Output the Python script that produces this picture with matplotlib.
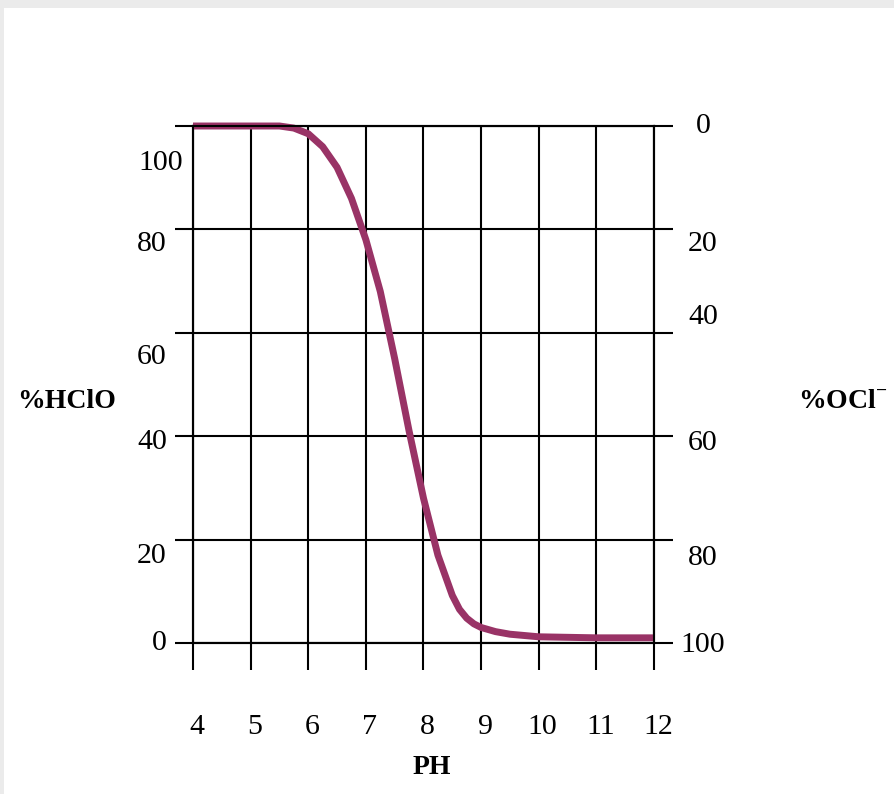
import matplotlib
matplotlib.use('Agg')
import matplotlib.pyplot as plt
from matplotlib.patches import Rectangle

# ---- data ----
ph = [4, 4.5, 5, 5.5, 5.75, 6.0, 6.25, 6.5, 6.75, 7.0, 7.25, 7.5, 7.75,
      8.0, 8.25, 8.5, 8.625, 8.75, 8.875, 9.0, 9.25, 9.5, 10, 11, 12]
hclo = [100, 100, 100, 100, 99.6, 98.5, 96, 92, 86, 78, 68, 55, 41,
        28, 17, 9.2, 6.5, 4.8, 3.7, 3.0, 2.2, 1.7, 1.2, 1.0, 1.0]
ph_ticks = [4, 5, 6, 7, 8, 9, 10, 11, 12]
hclo_ticks = [0, 20, 40, 60, 80, 100]
ocl_ticks = [0, 20, 40, 60, 80, 100]

# ---- layout (label offsets in pixels, as in the reference) ----
left_dy = [0, 16, 6, 24, 15, 37]      # downward shift of left labels (for 0..100)
left_right_edge = [-26, -26, -26, -26, -26, -10]
right_dy = [0, 15, -16, 7, 18, 2]     # downward shift of right labels (for 0..100)

PX = 0.72  # points per pixel at dpi 100
W, H = 895, 794
font = 'Liberation Serif'
fs = 21.5

fig = plt.figure(figsize=(W / 100, H / 100), dpi=100, facecolor='#ebebeb')
fig.patches.append(Rectangle((4 / W, 0), 1, (H - 8) / H, transform=fig.transFigure,
                             facecolor='white', edgecolor='none', zorder=-1))

ax = fig.add_axes([193 / W, (H - 643) / H, (654 - 193) / W, (643 - 126) / H])
ax.set_facecolor('none')
ax.set_xlim(4, 12)
ax.set_ylim(0, 100)
ax.plot(ph, hclo, color='#993366', lw=5, solid_capstyle='butt',
        solid_joinstyle='round', zorder=3, clip_on=False)
ax.set_xticks(ph_ticks)
ax.set_yticks(hclo_ticks)
ax.grid(True, color='black', lw=1.5)
ax.tick_params(axis='x', direction='out', length=27 * PX, width=1.5,
               labelbottom=False)
ax.tick_params(axis='y', direction='out', length=18 * PX, width=1.5,
               labelleft=False)
for s in ax.spines.values():
    s.set_linewidth(1.5)

ax2 = ax.twinx()
ax2.set_ylim(100, 0)
ax2.set_yticks(ocl_ticks)
ax2.tick_params(axis='y', direction='out', length=19 * PX, width=1.5,
                labelright=False)
for s in ax2.spines.values():
    s.set_linewidth(1.5)

# bottom labels
for p in ph_ticks:
    ax.annotate(str(p), xy=(p, 0), xycoords=('data', 'axes fraction'),
                xytext=(4 * PX, -84 * PX), textcoords='offset points',
                ha='center', va='center', fontsize=fs, family=font)

# left labels
for v, dy, dx in zip(hclo_ticks, left_dy, left_right_edge):
    ax.annotate(str(v), xy=(0, v), xycoords=('axes fraction', 'data'),
                xytext=(dx * PX, -dy * PX), textcoords='offset points',
                ha='right', va='center', fontsize=fs, family=font)

# right labels
for v, dy in zip(ocl_ticks, right_dy):
    ax2.annotate(str(v), xy=(1, v), xycoords=('axes fraction', 'data'),
                 xytext=(49 * PX, -dy * PX), textcoords='offset points',
                 ha='center', va='center', fontsize=fs, family=font)

# axis titles
fig.text(67 / W, 1 - 402 / H, '%HClO', ha='center', va='center',
         fontsize=20, family=font, fontweight='bold')
fig.text(798 / W, 1 - 402 / H, r'%OCl$^{\mathregular{-}}$', ha='left', va='center',
         fontsize=20, family=font, fontweight='bold')
fig.text(432 / W, 1 - 768 / H, 'PH', ha='center', va='center',
         fontsize=20, family=font, fontweight='bold')

fig.savefig('out.png', dpi=100, facecolor=fig.get_facecolor())
